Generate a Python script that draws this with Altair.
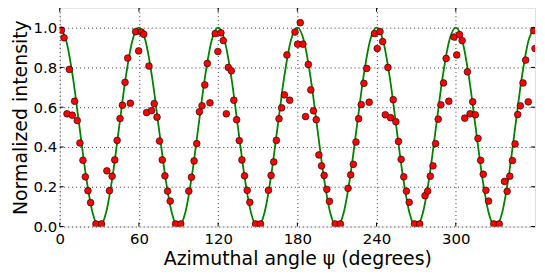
import altair as alt
import pandas as pd

# Measured points (azimuthal angle in degrees, normalized intensity)
angle_pts = [1.3, 3.3, 5.5, 7.3, 9.5, 11.3, 13.3, 15.3, 17.6, 19.4, 21.4, 23.4, 27.4, 31.7,
             35.7, 37.7, 39.7, 41.7, 43.5, 45.7, 47.5, 49.5, 51.5, 53.5, 57.5, 59.8, 61.8, 63.6,
             65.8, 67.6, 69.6, 71.6, 73.7, 75.6, 77.7, 79.7, 81.7, 83.7, 87.7, 91.7, 97.8, 99.8,
             101.8, 103.8, 105.8, 107.8, 109.9, 111.8, 113.8, 117.8, 119.8,
             122.1, 123.9, 126.2, 127.7, 130.0, 131.9, 134.0, 136.0, 138.0, 140.0, 142.0, 144.0,
             148.3, 152.1, 158.1, 160.1, 162.1, 164.1, 166.1, 168.1, 170.2, 172.1, 174.2, 178.2,
             180.2, 182.2, 184.2, 186.2, 188.3, 190.2, 192.2, 194.3, 196.3, 198.3, 200.3, 202.3,
             204.3, 208.6, 212.6, 218.4, 220.4, 222.4, 224.4, 226.4, 228.4, 230.4, 232.5, 234.4,
             238.4, 240.5, 242.6, 244.6, 246.6, 248.6, 250.6, 252.6, 254.6, 256.6, 258.6, 260.6,
             262.6, 264.7, 268.7, 272.7, 276.7, 278.7, 280.7, 282.7, 284.7, 286.7, 288.7, 290.7,
             292.7, 294.7, 298.7, 300.7, 302.8, 304.8, 306.8, 308.8, 310.8, 312.8, 314.8, 316.8,
             318.8, 320.8, 322.8, 324.8, 328.8, 332.9, 336.9, 338.9, 340.9, 342.9, 344.9, 346.9,
             348.9, 350.9, 352.9, 354.9, 359.0, 360.0]
intensity_pts = [0.987, 0.949, 0.567, 0.79, 0.56, 0.63, 0.533, 0.42, 0.333, 0.25, 0.18, 0.12, 0.013, 0.013,
                 0.28, 0.18, 0.253, 0.335, 0.433, 0.543, 0.61, 0.725, 0.847, 0.62, 0.98, 0.883, 0.978, 0.967,
                 0.573, 0.807, 0.583, 0.618, 0.55, 0.43, 0.335, 0.255, 0.178, 0.128, 0.013, 0.013, 0.178, 0.248,
                 0.33, 0.417, 0.577, 0.607, 0.712, 0.82, 0.622, 0.97, 0.88,
                 0.974, 0.935, 0.567, 0.80, 0.783, 0.635, 0.537, 0.432, 0.335, 0.255, 0.182, 0.122,
                 0.013, 0.013, 0.182, 0.257, 0.325, 0.433, 0.542, 0.597, 0.662, 0.863, 0.635, 0.978,
                 0.917, 1.025, 0.917, 0.553, 0.815, 0.687, 0.582, 0.537, 0.36, 0.305, 0.257, 0.187,
                 0.127, 0.013, 0.013, 0.192, 0.26, 0.313, 0.425, 0.542, 0.613, 0.72, 0.795, 0.625,
                 0.97, 0.895, 0.98, 0.93, 0.562, 0.80, 0.547, 0.638, 0.527, 0.428, 0.338, 0.25,
                 0.178, 0.122, 0.013, 0.013, 0.155, 0.178, 0.253, 0.305, 0.417, 0.54, 0.612, 0.722,
                 0.845, 0.63, 0.953, 0.863, 0.965, 0.935, 0.545, 0.778, 0.567, 0.627, 0.562, 0.443,
                 0.333, 0.263, 0.182, 0.128, 0.013, 0.013, 0.227, 0.177, 0.253, 0.332, 0.415, 0.563,
                 0.607, 0.722, 0.837, 0.627, 0.985, 0.895]

# Fitted curve, read at 5 degree steps
curve_angle = list(range(0, 361, 5))
curve_val = [1.0, 0.933, 0.75, 0.5, 0.25, 0.067, 0.0, 0.067, 0.25, 0.5, 0.75, 0.933,
             1.0, 0.933, 0.75, 0.5, 0.25, 0.067, 0.0, 0.067, 0.25, 0.5, 0.75, 0.933,
             1.0, 0.933, 0.75, 0.5, 0.25, 0.067, 0.0, 0.067, 0.25, 0.5, 0.75, 0.933,
             1.0, 0.933, 0.75, 0.5, 0.25, 0.067, 0.0, 0.067, 0.25, 0.5, 0.75, 0.933,
             1.0, 0.933, 0.75, 0.5, 0.25, 0.067, 0.0, 0.067, 0.25, 0.5, 0.75, 0.933,
             1.0, 0.933, 0.75, 0.5, 0.25, 0.067, 0.0, 0.067, 0.25, 0.5, 0.75, 0.933,
             1.0]

x_ticks = [0, 60, 120, 180, 240, 300]
y_ticks = [0.0, 0.2, 0.4, 0.6, 0.8, 1.0]

W, H = 478, 220

pts = pd.DataFrame({"angle": angle_pts, "intensity": intensity_pts})
curve = pd.DataFrame({"angle": curve_angle, "intensity": curve_val})
xt = pd.DataFrame({"t": x_ticks})
yt = pd.DataFrame({"t": y_ticks})

xscale = alt.Scale(domain=[0, 360], nice=False, zero=False)
yscale = alt.Scale(domain=[0, 1.1], nice=False)

xaxis = alt.Axis(values=x_ticks, title="Azimuthal angle ψ (degrees)", grid=True,
                 gridDash=[1, 3], gridColor="#333", gridWidth=1, ticks=False, domain=False,
                 labelFontSize=15, titleFontSize=19, labelPadding=5, titlePadding=3,
                 labelFont="DejaVu Sans", titleFont="DejaVu Sans", titleFontWeight="normal",
                 labelColor="black", titleColor="black", labelFlush=False)
yaxis = alt.Axis(values=y_ticks, format=".1f", title="Normalized intensity", grid=True,
                 gridDash=[1, 3], gridColor="#333", gridWidth=1, ticks=False, domain=False,
                 labelFontSize=15, titleFontSize=19, labelPadding=3, titlePadding=3,
                 labelFont="DejaVu Sans", titleFont="DejaVu Sans", titleFontWeight="normal",
                 labelColor="black", titleColor="black", labelFlush=False)

line = alt.Chart(curve).mark_line(color="#008000", strokeWidth=1.8, interpolate="monotone", clip=True).encode(
    x=alt.X("angle:Q", scale=xscale, axis=xaxis),
    y=alt.Y("intensity:Q", scale=yscale, axis=yaxis),
)

points = alt.Chart(pts).mark_point(filled=True, fill="red", stroke="black", strokeWidth=0.6,
                                   size=46, opacity=1, clip=True).encode(
    x=alt.X("angle:Q", scale=xscale),
    y=alt.Y("intensity:Q", scale=yscale),
)

tick_bottom = alt.Chart(xt).mark_rule(color="black", strokeWidth=1).encode(
    x=alt.X("t:Q", scale=xscale), y=alt.value(H), y2=alt.value(H - 4))
tick_top = alt.Chart(xt).mark_rule(color="black", strokeWidth=1).encode(
    x=alt.X("t:Q", scale=xscale), y=alt.value(0), y2=alt.value(4))
tick_left = alt.Chart(yt).mark_rule(color="black", strokeWidth=1).encode(
    y=alt.Y("t:Q", scale=yscale), x=alt.value(0), x2=alt.value(4))
tick_right = alt.Chart(yt).mark_rule(color="black", strokeWidth=1).encode(
    y=alt.Y("t:Q", scale=yscale), x=alt.value(W), x2=alt.value(W - 4))

chart = alt.layer(line, points, tick_bottom, tick_top, tick_left, tick_right).properties(
    width=W, height=H,
    autosize=alt.AutoSizeParams(type="none"),
    padding={"left": 52, "top": -1, "right": 2, "bottom": 50},
).configure_view(stroke="black", strokeWidth=1.2).configure(background="white")

chart.save("out.html", embed_options={"renderer": "svg", "actions": False})
